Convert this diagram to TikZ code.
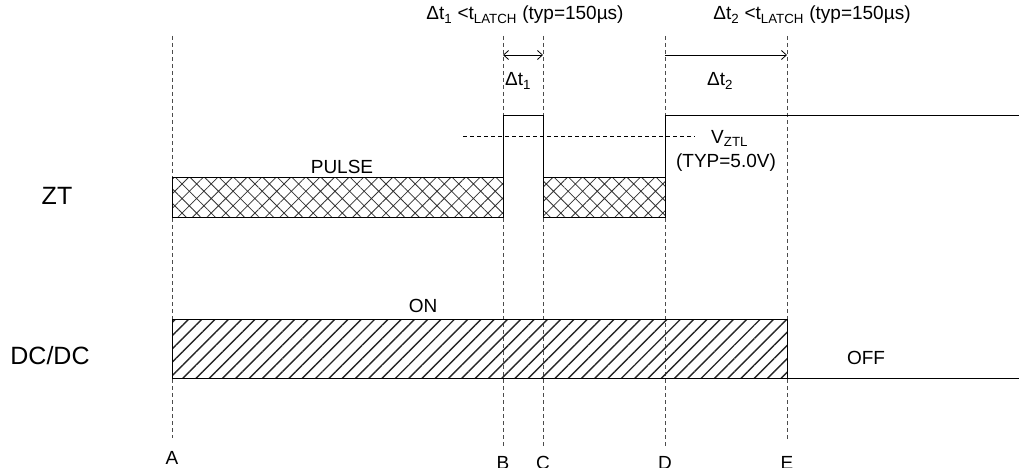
\documentclass[tikz,border=0pt]{standalone}
\usepackage{fontspec}
\setmainfont{Liberation Sans}
\usetikzlibrary{arrows.meta, positioning, patterns.meta}

\tikzset{
  marker/.style={dash pattern=on 4pt off 3pt, line width=0.8pt, black!70},
  xhatch/.style={draw, line width=0.9pt,
    pattern={Hatch[angle=45, distance=10.3pt, line width=0.8pt]}, pattern color=black!80},
  slash/.style={draw, line width=0.9pt,
    pattern={Lines[angle=45, distance=9.4pt, line width=1.4pt]}, pattern color=black!85},
  wave/.style={line width=1pt},
  bigtxt/.style={font=\fontsize{25}{30}\selectfont}
}

\begin{document}
\begin{tikzpicture}[x=1pt, y=-1pt, >={Straight Barb[length=5pt, width=9pt]},
    font=\fontsize{19}{22}\selectfont]
  \useasboundingbox (0,0) rectangle (1019,468);

  % Event lines A..E
  \foreach \x/\name/\yend/\ylbl in {172/A/438/458, 503/B/447/463, 543/C/447/463, 665/D/447/463, 787/E/440/463} {
    \draw[marker] (\x,36) -- (\x,\yend);
    \coordinate (t\name) at (\x,55);
    \node (lbl\name) at (\x,\ylbl) {\name};
  }

  % Signal names
  \node[bigtxt] (zt) at (57,196) {ZT};
  \node[bigtxt] (dcdc) at (50,356) {DC/DC};

  % ZT waveform
  \draw[xhatch] (172,177) rectangle (503,217);
  \draw[wave] (503,217) -- (503,116) -- (543,116) -- (543,217);
  \draw[xhatch] (543,177) rectangle (665,217);
  \draw[wave] (665,217) -- (665,116) -- (1019,116);
  \node (pulse) at (342,167) {PULSE};
  % threshold
  \draw[dash pattern=on 4pt off 3pt, line width=0.8pt] (463,136) -- (695,136);
  \node[anchor=base west, inner sep=0] (vztl) at (711,143) {V\textsubscript{ZTL}};
  \node[anchor=base, inner sep=0] (vtyp) at (726,167) {(TYP=5.0V)};

  % DC/DC waveform
  \draw[slash] (172,319) rectangle (787,378);
  \draw[wave] (787,378) -- (1019,378);
  \node (on) at (423,306) {ON};
  \node (off) at (866,358) {OFF};

  % Timing annotations
  \node[anchor=base, inner sep=0] (dt1lim) at (525,20) {Δt\textsubscript{1} <t\textsubscript{LATCH} (typ=150µs)};
  \node[anchor=base, inner sep=0] (dt2lim) at (812,20) {Δt\textsubscript{2} <t\textsubscript{LATCH} (typ=150µs)};
  \draw[<->, line width=0.8pt] (tB) -- (tC);
  \draw[->, line width=0.8pt] (tD) -- (tE);
  \node[anchor=base west, inner sep=0] (dt1) at (505,86) {Δt\textsubscript{1}};
  \node[anchor=base west, inner sep=0] (dt2) at (707,86) {Δt\textsubscript{2}};
\end{tikzpicture}
\end{document}
